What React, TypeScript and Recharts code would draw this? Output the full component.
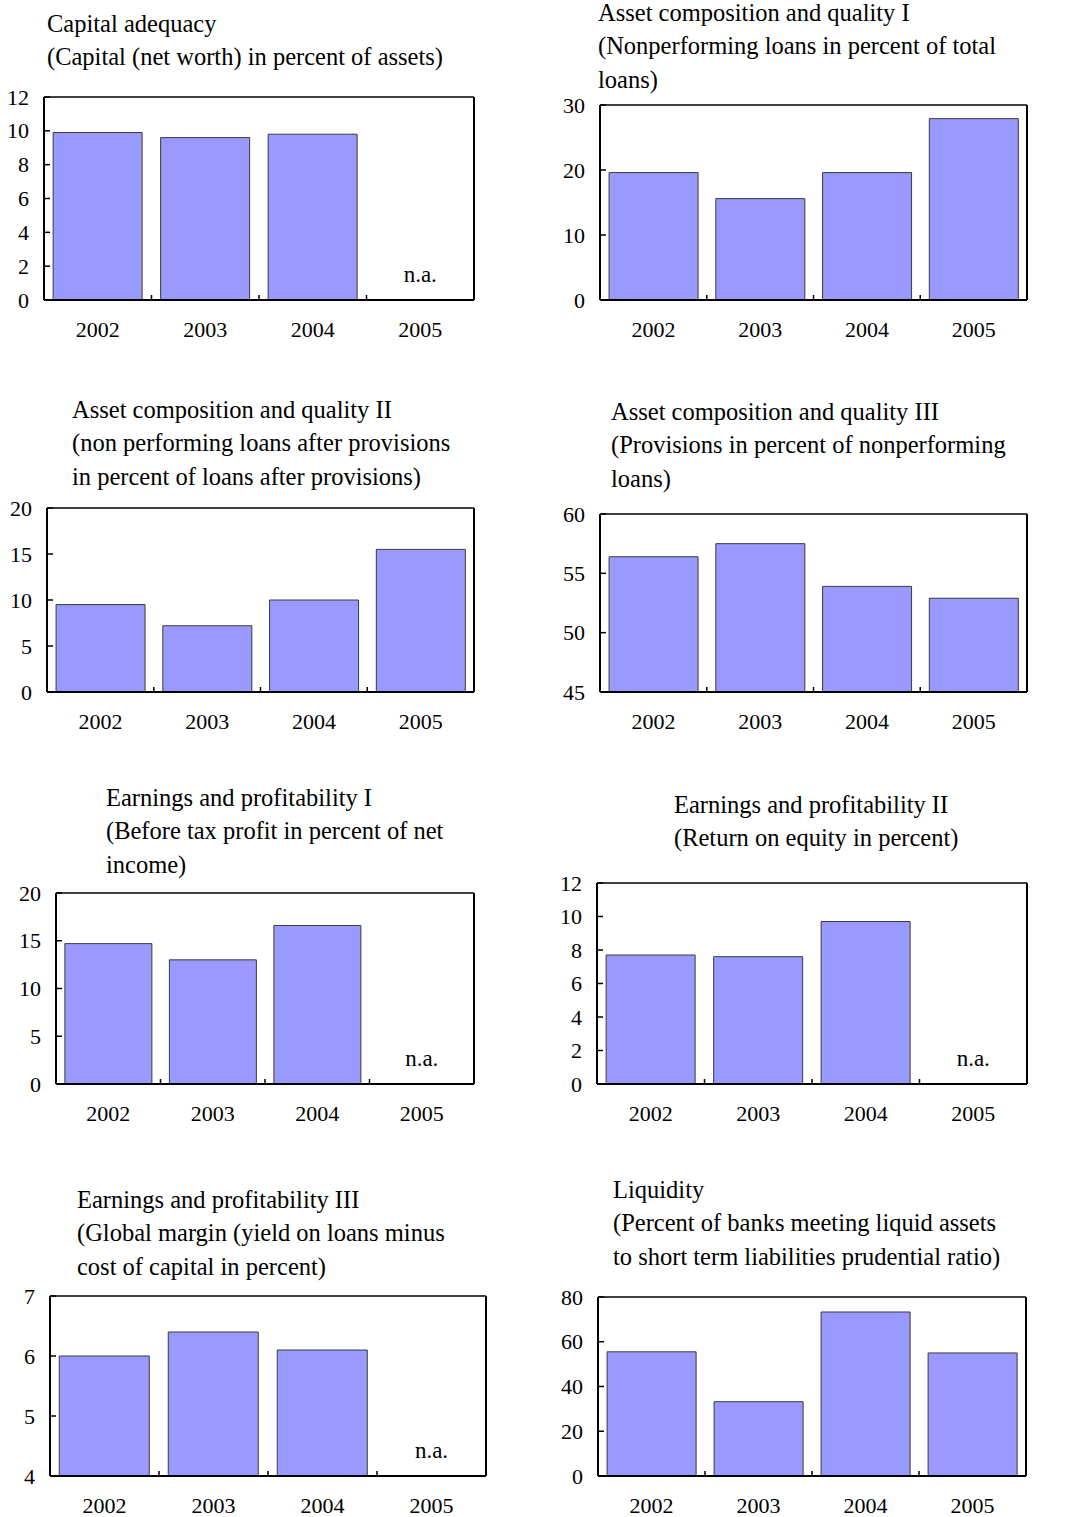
import { BarChart, Bar, XAxis, YAxis, ReferenceLine } from 'recharts';

const years = ['2002', '2003', '2004', '2005'];

// values (null = n.a.)
const capitalAdequacy = [9.9, 9.6, 9.8, null];
const nplToTotalLoans = [19.6, 15.6, 19.6, 27.9];
const nplAfterProvisions = [9.5, 7.2, 10.0, 15.5];
const provisionsToNpl = [56.4, 57.5, 53.9, 52.9];
const pretaxProfit = [14.7, 13.0, 16.6, null];
const returnOnEquity = [7.7, 7.6, 9.7, null];
const globalMargin = [6.0, 6.4, 6.1, null];
const liquidity = [55.5, 33.2, 73.3, 55.0];

const ticksCapital = [0, 2, 4, 6, 8, 10, 12];
const ticksNpl = [0, 10, 20, 30];
const ticksNplAfter = [0, 5, 10, 15, 20];
const ticksProvisions = [45, 50, 55, 60];
const ticksProfit = [0, 5, 10, 15, 20];
const ticksRoe = [0, 2, 4, 6, 8, 10, 12];
const ticksMargin = [4, 5, 6, 7];
const ticksLiquidity = [0, 20, 40, 60, 80];

const FONT = "'Liberation Serif', 'Times New Roman', serif";

type Box = { left: number; top: number; right: number; bottom: number };

interface PanelDef {
  title: string[];
  titleX: number;
  titleY: number;
  values: (number | null)[];
  ticks: number[];
  box: Box;
}

const panels: PanelDef[] = [
  {
    title: ['Capital adequacy', '(Capital (net worth) in percent of assets)'],
    titleX: 47, titleY: 32,
    values: capitalAdequacy, ticks: ticksCapital,
    box: { left: 44, top: 97, right: 474, bottom: 300 },
  },
  {
    title: ['Asset composition and quality I', '(Nonperforming loans in percent of total', 'loans)'],
    titleX: 598, titleY: 21,
    values: nplToTotalLoans, ticks: ticksNpl,
    box: { left: 600, top: 105, right: 1027, bottom: 300 },
  },
  {
    title: ['Asset composition and quality II', '(non performing loans after provisions', 'in percent of loans after provisions)'],
    titleX: 72, titleY: 418,
    values: nplAfterProvisions, ticks: ticksNplAfter,
    box: { left: 47, top: 508, right: 474, bottom: 692 },
  },
  {
    title: ['Asset composition and quality III', '(Provisions in percent of nonperforming', 'loans)'],
    titleX: 611, titleY: 420,
    values: provisionsToNpl, ticks: ticksProvisions,
    box: { left: 600, top: 514, right: 1027, bottom: 692 },
  },
  {
    title: ['Earnings and profitability I', '(Before tax profit in percent of net', 'income)'],
    titleX: 106, titleY: 806,
    values: pretaxProfit, ticks: ticksProfit,
    box: { left: 56, top: 893, right: 474, bottom: 1084 },
  },
  {
    title: ['Earnings and profitability II', '(Return on equity in percent)'],
    titleX: 674, titleY: 813,
    values: returnOnEquity, ticks: ticksRoe,
    box: { left: 597, top: 883, right: 1027, bottom: 1084 },
  },
  {
    title: ['Earnings and profitability III', '(Global margin (yield on loans minus', 'cost of capital in percent)'],
    titleX: 77, titleY: 1208,
    values: globalMargin, ticks: ticksMargin,
    box: { left: 50, top: 1296, right: 486, bottom: 1476 },
  },
  {
    title: ['Liquidity', '(Percent of banks meeting liquid assets', 'to short term liabilities prudential ratio)'],
    titleX: 613, titleY: 1198,
    values: liquidity, ticks: ticksLiquidity,
    box: { left: 598, top: 1297, right: 1026, bottom: 1476 },
  },
];

const PAD = 60;
const TOP = 24;
const BOTTOM = 50;
const GAP = 15;

const txt = { fontFamily: FONT, fill: '#000' };

function Panel({ values, ticks, box }: PanelDef) {
  const w = box.right - box.left;
  const h = box.bottom - box.top;
  const catW = w / years.length;
  const dom: [number, number] = [ticks[0], ticks[ticks.length - 1]];
  const data = years.map((y, i) => ({ year: y, value: values[i] }));

  const XTick = (p: any) => {
    const i = p.index;
    return (
      <g>
        <text x={p.x} y={p.y + 37} textAnchor="middle" style={{ ...txt, fontSize: 22 }}>
          {p.payload.value}
        </text>
        {i < years.length - 1 && (
          <line x1={p.x + catW / 2} x2={p.x + catW / 2} y1={p.y} y2={p.y - 5} stroke="#000" strokeWidth={1.5} />
        )}
        {values[i] == null && (
          <text x={p.x} y={p.y - 18} textAnchor="middle" style={{ ...txt, fontSize: 23 }}>
            n.a.
          </text>
        )}
      </g>
    );
  };

  const YTickLeft = (p: any) => (
    <g>
      <line x1={p.x + GAP} x2={p.x + GAP + 6} y1={p.y} y2={p.y} stroke="#000" strokeWidth={1.5} />
      <text x={p.x} y={p.y + 7.5} textAnchor="end" style={{ ...txt, fontSize: 22 }}>
        {p.payload.value}
      </text>
    </g>
  );

  const YTickRight = (p: any) => (
    <g>
      <line x1={p.x - GAP} x2={p.x - GAP - 6} y1={p.y} y2={p.y} stroke="#000" strokeWidth={1.5} />
      <text x={p.x} y={p.y + 7.5} textAnchor="start" style={{ ...txt, fontSize: 22 }}>
        {p.payload.value}
      </text>
    </g>
  );

  return (
    <div style={{ position: 'absolute', left: box.left - PAD, top: box.top - TOP }}>
      <BarChart
        width={w + 2 * PAD}
        height={h + TOP + BOTTOM}
        data={data}
        margin={{ top: TOP, right: 0, bottom: 0, left: 0 }}
        barCategoryGap="8.5%"
      >
        <XAxis
          dataKey="year"
          height={BOTTOM}
          interval={0}
          tickLine={false}
          tickSize={0}
          tickMargin={0}
          axisLine={{ stroke: '#000', strokeWidth: 2 }}
          tick={XTick}
        />
        <YAxis
          yAxisId="l"
          orientation="left"
          width={PAD}
          type="number"
          domain={dom}
          ticks={ticks}
          interval={0}
          tickLine={false}
          tickSize={0}
          tickMargin={GAP}
          axisLine={{ stroke: '#000', strokeWidth: 2 }}
          tick={YTickLeft}
        />
        <YAxis
          yAxisId="r"
          orientation="right"
          width={PAD}
          type="number"
          domain={dom}
          ticks={ticks}
          interval={0}
          tickLine={false}
          tickSize={0}
          tickMargin={GAP}
          axisLine={{ stroke: '#000', strokeWidth: 2 }}
          tick={YTickRight}
        />
        <ReferenceLine yAxisId="l" y={dom[1]} stroke="#000" strokeWidth={1.5} />
        <Bar
          yAxisId="l"
          dataKey="value"
          fill="#9999ff"
          stroke="#3a3a3a"
          strokeWidth={1}
          isAnimationActive={false}
        />
      </BarChart>
    </div>
  );
}

export default function App() {
  return (
    <div style={{ position: 'absolute', left: 0, top: 0, width: 1092, height: 1517, background: '#fff', overflow: 'hidden' }}>
      {panels.map((p, i) => (
        <Panel key={i} {...p} />
      ))}
      <svg width={1092} height={1517} style={{ position: 'absolute', left: 0, top: 0, pointerEvents: 'none' }}>
        {panels.map((p, i) =>
          p.title.map((line, j) => (
            <text key={`${i}-${j}`} x={p.titleX} y={p.titleY + j * 33.4} style={{ ...txt, fontSize: 24.5 }}>
              {line}
            </text>
          ))
        )}
      </svg>
    </div>
  );
}
